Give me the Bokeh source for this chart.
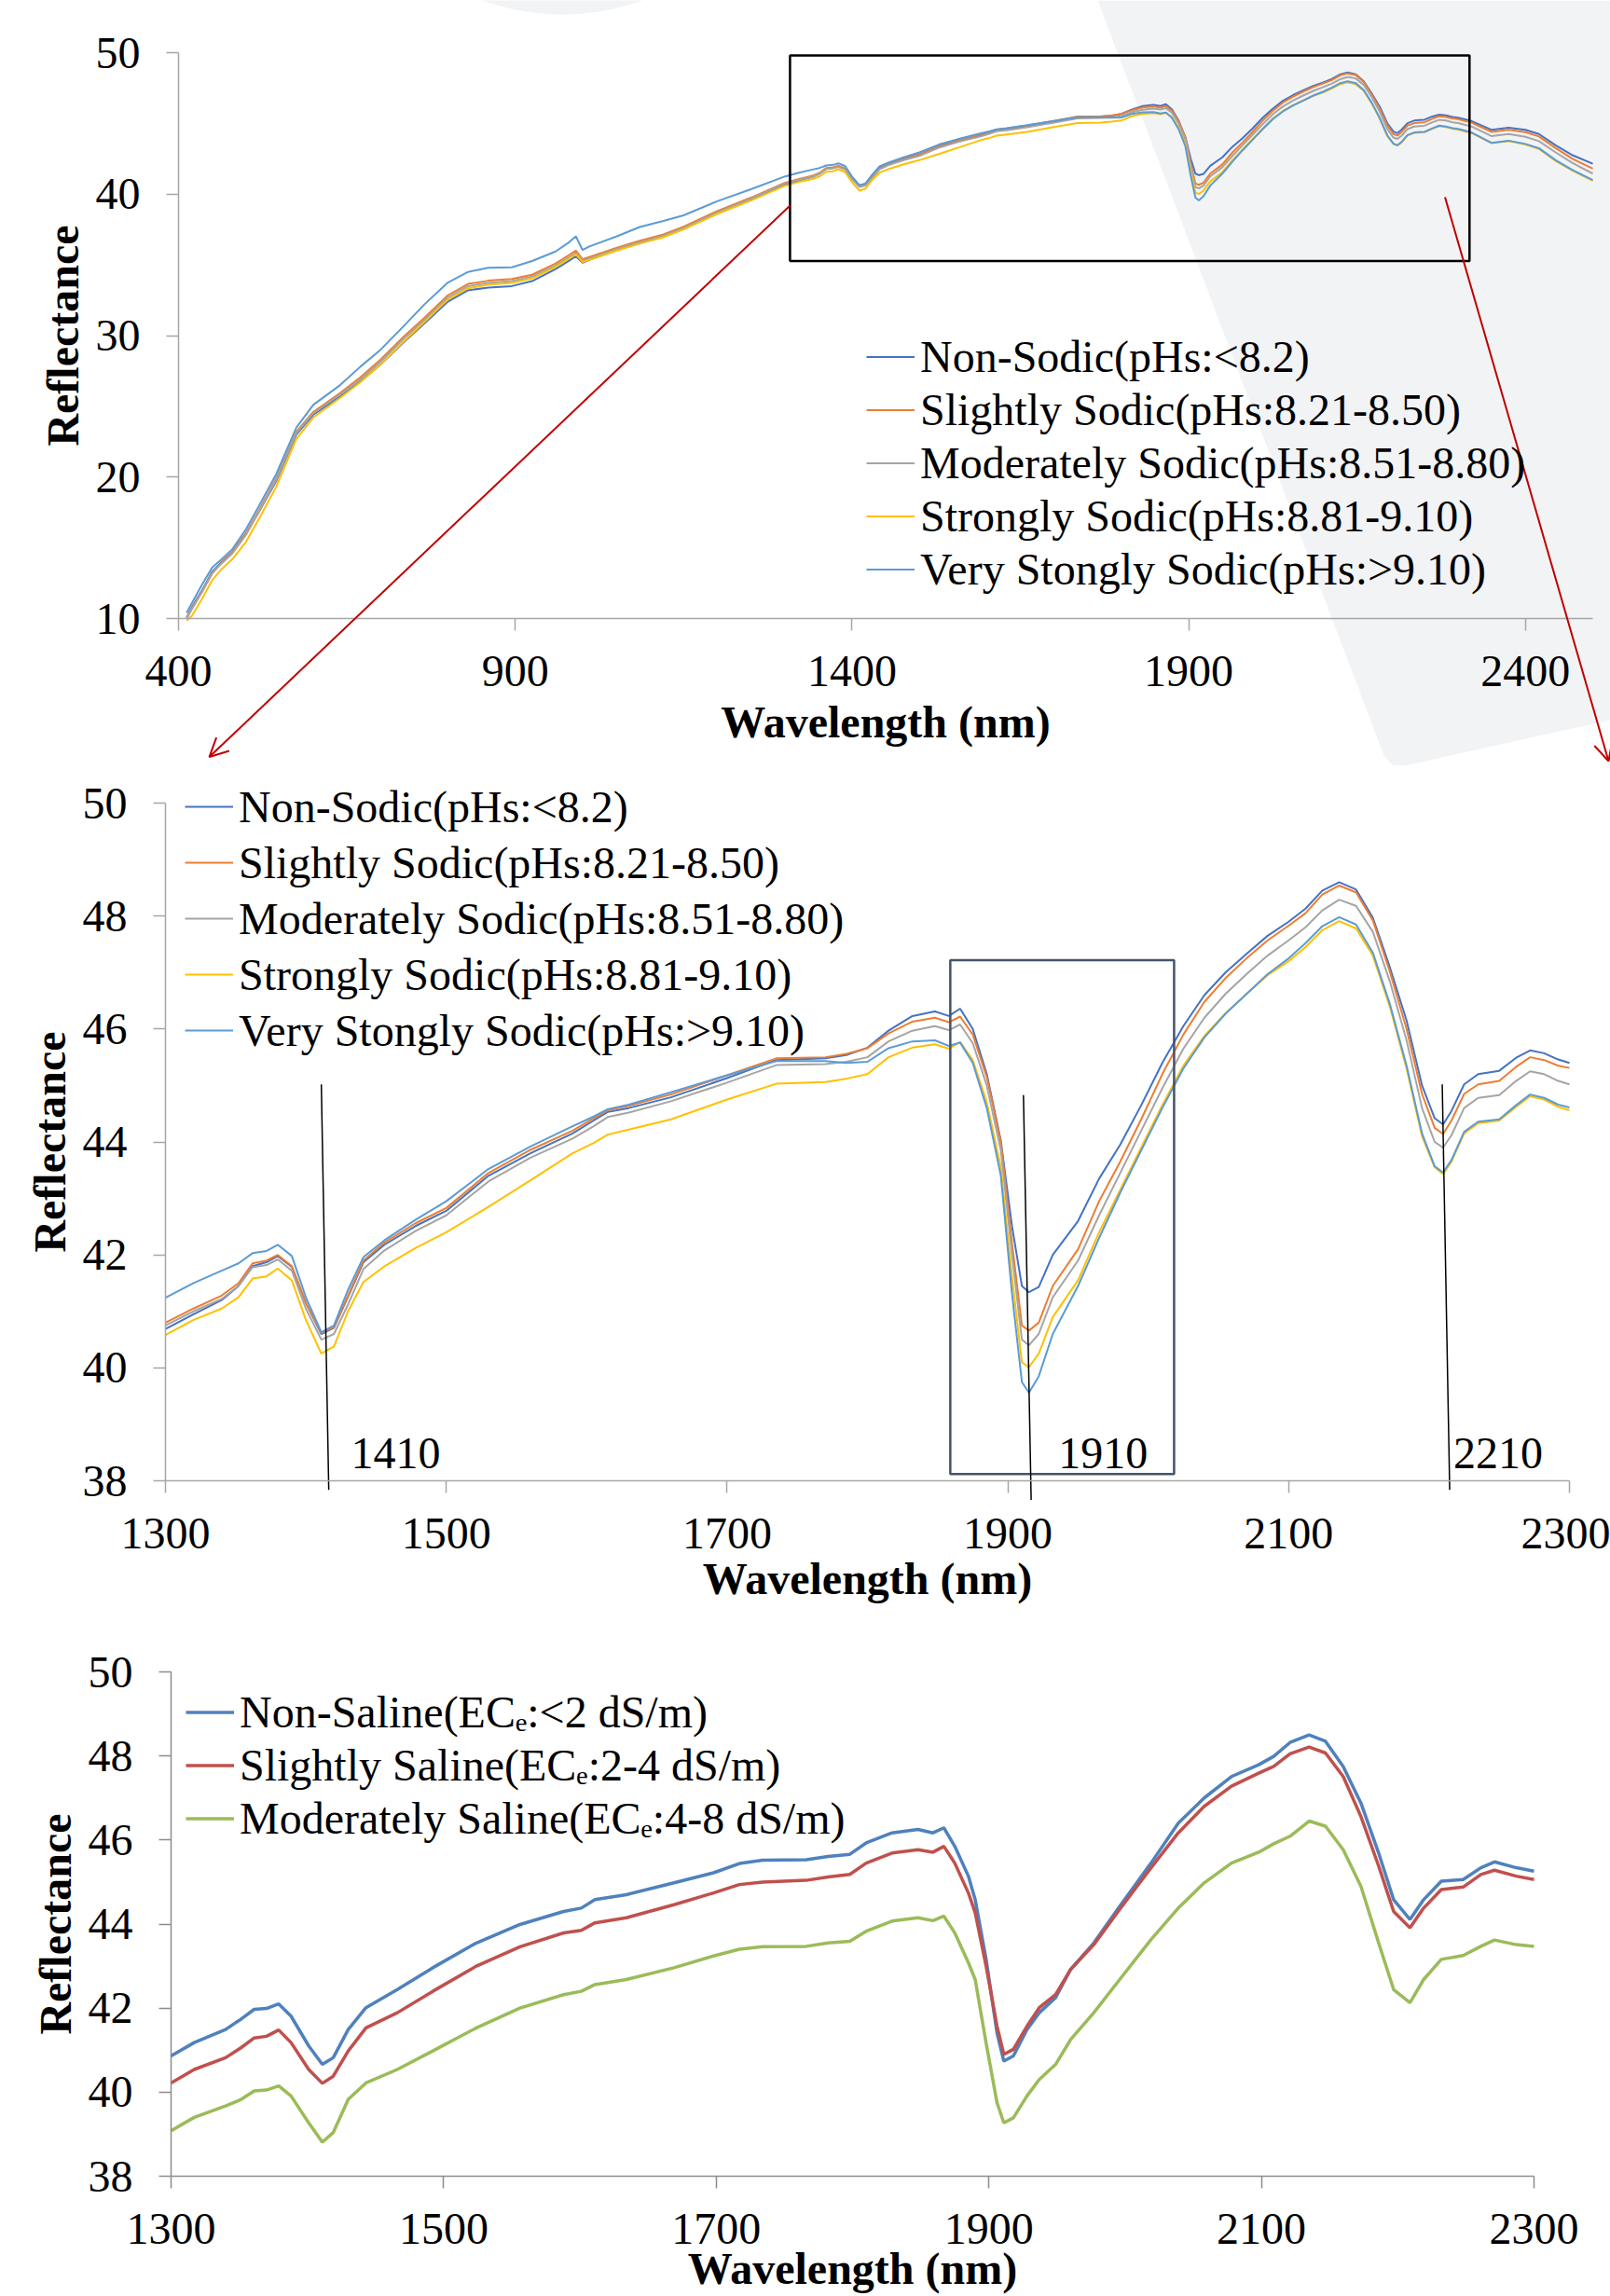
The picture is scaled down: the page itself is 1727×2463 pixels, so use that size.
import math
from bokeh.plotting import figure
from bokeh.models import (Legend, LegendItem, Arrow, OpenHead, Label,
                          FixedTicker, Range1d)
from bokeh.layouts import column
from bokeh.embed import file_html
from bokeh.resources import INLINE

# ---------------------------------------------------------------- data
wavelength = [
    412, 420, 435, 450, 462, 480, 500, 520, 545,
    575, 600, 640, 670, 700, 735, 765, 800, 830, 860,
    895, 925, 960, 980, 990, 1000, 1010, 1050, 1085, 1120,
    1150, 1200, 1250,
    1300, 1320, 1340, 1352, 1362, 1372, 1380, 1390, 1400, 1411,
    1420, 1430, 1441, 1456, 1478, 1500, 1530, 1560, 1590, 1605,
    1615, 1630, 1660, 1700, 1735, 1770, 1785, 1800, 1815, 1832,
    1848, 1858, 1866, 1875, 1885, 1895, 1903, 1910, 1915, 1922,
    1932, 1950, 1965, 1980, 1995, 2010, 2025, 2040, 2055, 2070,
    2085, 2100, 2112, 2124, 2136, 2148, 2160, 2172, 2184, 2195,
    2204, 2210, 2216, 2225, 2235, 2250, 2262, 2272, 2282, 2292,
    2300,
    2320, 2350, 2375, 2400, 2420, 2445, 2470, 2500]

non_sodic = [
    10.05, 10.8, 12.0, 13.3, 13.9, 14.7, 16.0, 17.6, 19.7,
    23.0, 24.4, 25.7, 26.75, 27.95, 29.55, 30.85, 32.4, 33.2, 33.4,
    33.5, 33.85, 34.7, 35.3, 35.6, 35.15, 35.35, 36.05, 36.55, 37.0,
    37.55, 38.65, 39.6,
    40.69, 40.95, 41.2, 41.45, 41.8, 41.87, 41.98, 41.79, 41.15, 40.6,
    40.71, 41.26, 41.87, 42.18, 42.51, 42.78, 43.4, 43.8, 44.15, 44.38,
    44.53, 44.6, 44.79, 45.13, 45.45, 45.48, 45.54, 45.67, 45.97, 46.23,
    46.31, 46.23, 46.36, 46.0, 45.2, 44.02, 42.5, 41.45, 41.34, 41.43,
    42.0, 42.6, 43.35, 43.95, 44.65, 45.4, 46.05, 46.6, 47.0, 47.33,
    47.65, 47.9, 48.13, 48.45, 48.6, 48.47, 47.97, 47.1, 46.15, 45.0,
    44.42, 44.31, 44.55, 45.02, 45.2, 45.26, 45.49, 45.62, 45.57, 45.46,
    45.4,
    45.17, 44.54, 44.69, 44.55, 44.25, 43.45, 42.75, 42.15]

slightly_sodic = [
    10.0, 10.7, 11.9, 13.2, 13.85, 14.7, 16.0, 17.7, 19.9,
    23.2, 24.6, 25.95, 27.05, 28.3, 29.95, 31.25, 32.85, 33.65, 33.88,
    34.0, 34.3, 35.1, 35.7, 36.0, 35.4, 35.55, 36.2, 36.7, 37.15,
    37.7, 38.8, 39.75,
    40.8, 41.05, 41.28, 41.5, 41.85, 41.9, 42.0, 41.8, 41.15, 40.62,
    40.72, 41.28, 41.9, 42.22, 42.56, 42.83, 43.45, 43.86, 44.2, 44.42,
    44.56, 44.64, 44.84, 45.18, 45.48, 45.5, 45.56, 45.66, 45.92, 46.13,
    46.2, 46.12, 46.22, 45.9, 45.15, 44.0, 42.2, 40.75, 40.66, 40.8,
    41.45, 42.1, 42.95, 43.65, 44.4, 45.2, 45.9, 46.48, 46.9, 47.25,
    47.57, 47.83, 48.05, 48.38, 48.54, 48.42, 47.92, 47.02, 46.0, 44.85,
    44.25, 44.14, 44.38, 44.85, 45.02, 45.08, 45.33, 45.5, 45.45, 45.35,
    45.31,
    45.05, 44.4, 44.55, 44.38, 44.08, 43.25, 42.5, 41.8]

moderately_sodic = [
    10.0, 10.7, 11.9, 13.2, 13.8, 14.6, 15.9, 17.6, 19.8,
    23.1, 24.5, 25.85, 26.9, 28.15, 29.8, 31.1, 32.7, 33.5, 33.72,
    33.85, 34.17, 34.95, 35.55, 35.85, 35.3, 35.45, 36.1, 36.6, 37.05,
    37.6, 38.7, 39.68,
    40.75, 41.0, 41.22, 41.45, 41.78, 41.82, 41.92, 41.72, 41.05, 40.5,
    40.6, 41.12, 41.75, 42.08, 42.42, 42.7, 43.3, 43.72, 44.06, 44.28,
    44.44, 44.52, 44.72, 45.05, 45.36, 45.38, 45.42, 45.5, 45.78, 45.97,
    46.05, 45.98, 46.08, 45.75, 45.0, 43.85, 42.0, 40.5, 40.4, 40.6,
    41.25, 41.9, 42.7, 43.45, 44.2, 44.95, 45.65, 46.2, 46.62, 46.97,
    47.3, 47.57, 47.8, 48.1, 48.29, 48.18, 47.72, 46.85, 45.8, 44.6,
    44.0, 43.9, 44.12, 44.6, 44.78, 44.83, 45.08, 45.25, 45.2, 45.08,
    45.02,
    44.78, 44.1, 44.25, 44.05, 43.75, 42.95, 42.2, 41.45]

strongly_sodic = [
    9.85, 10.2, 11.4, 12.7, 13.4, 14.2, 15.4, 17.1, 19.3,
    22.7, 24.2, 25.6, 26.7, 27.95, 29.6, 30.95, 32.55, 33.35, 33.6,
    33.72, 34.05, 34.85, 35.45, 35.75, 35.2, 35.35, 36.0, 36.5, 36.95,
    37.5, 38.6, 39.55,
    40.58, 40.85, 41.05, 41.25, 41.58, 41.62, 41.76, 41.55, 40.85, 40.25,
    40.38, 41.0, 41.52, 41.8, 42.12, 42.4, 42.85, 43.32, 43.8, 43.98,
    44.13, 44.22, 44.4, 44.75, 45.03, 45.06, 45.12, 45.2, 45.5, 45.67,
    45.73, 45.65, 45.77, 45.45, 44.7, 43.55, 41.6, 40.1, 40.01, 40.25,
    40.9, 41.55, 42.4, 43.15, 43.9, 44.65, 45.35, 45.88, 46.28, 46.62,
    46.95, 47.2, 47.45, 47.75, 47.91, 47.78, 47.3, 46.4, 45.3, 44.1,
    43.55, 43.43, 43.65, 44.15, 44.33, 44.38, 44.62, 44.81, 44.75, 44.62,
    44.56,
    44.32, 43.6, 43.75, 43.5, 43.2, 42.35, 41.65, 40.95]

very_strongly_sodic = [
    10.4, 11.1, 12.4, 13.6, 14.1, 14.9, 16.3, 18.0, 20.2,
    23.5, 25.1, 26.5, 27.8, 29.0, 30.7, 32.2, 33.75, 34.5, 34.8,
    34.83, 35.27, 35.95, 36.6, 37.02, 36.05, 36.3, 37.0, 37.68, 38.1,
    38.5, 39.5, 40.35,
    41.24, 41.5, 41.72, 41.85, 42.03, 42.07, 42.18, 41.98, 41.25, 40.63,
    40.75, 41.38, 41.96, 42.26, 42.62, 42.95, 43.52, 43.92, 44.28, 44.45,
    44.58, 44.66, 44.88, 45.18, 45.43, 45.43, 45.4, 45.42, 45.66, 45.78,
    45.8, 45.7, 45.76, 45.4, 44.6, 43.4, 41.3, 39.75, 39.56, 39.85,
    40.6, 41.45, 42.3, 43.1, 43.85, 44.6, 45.3, 45.85, 46.27, 46.62,
    46.97, 47.25, 47.52, 47.82, 47.98, 47.85, 47.35, 46.45, 45.35, 44.15,
    43.57, 43.46, 43.68, 44.18, 44.36, 44.4, 44.65, 44.84, 44.78, 44.66,
    44.61,
    44.36, 43.62, 43.78, 43.55, 43.25, 42.4, 41.7, 41.0]

sodic_labels = ["Non-Sodic(pHs:<8.2)",
                "Slightly Sodic(pHs:8.21-8.50)",
                "Moderately Sodic(pHs:8.51-8.80)",
                "Strongly Sodic(pHs:8.81-9.10)",
                "Very Stongly Sodic(pHs:>9.10)"]

saline_wavelength = [
    1300, 1317, 1340, 1351, 1361, 1370, 1379, 1388, 1401, 1411,
    1419, 1430, 1443, 1466, 1492, 1524, 1556, 1588, 1601, 1611,
    1634, 1669, 1698, 1717, 1734, 1766, 1782, 1798, 1810, 1829,
    1848, 1859, 1867, 1875, 1885, 1890, 1898, 1906, 1911, 1918,
    1928, 1937, 1949, 1960, 1977, 1996, 2019, 2039, 2058, 2078,
    2098, 2109, 2121, 2135, 2147, 2160, 2173, 2186, 2197, 2209,
    2219, 2232, 2248, 2261, 2271, 2287, 2300]

non_saline = [
    40.86, 41.18, 41.49, 41.73, 41.97, 41.99, 42.10, 41.81, 41.10, 40.66,
    40.82, 41.49, 42.01, 42.44, 42.96, 43.55, 43.99, 44.30, 44.38, 44.58,
    44.70, 44.98, 45.22, 45.44, 45.52, 45.53, 45.61, 45.66, 45.93, 46.17,
    46.25, 46.17, 46.29, 45.85, 45.14, 44.58, 43.16, 41.41, 40.74, 40.86,
    41.49, 41.89, 42.25, 42.92, 43.55, 44.42, 45.45, 46.40, 47.00, 47.51,
    47.79, 47.99, 48.32, 48.50, 48.35, 47.75, 46.88, 45.69, 44.58, 44.11,
    44.58, 45.02, 45.06, 45.34, 45.48, 45.34, 45.26]

slightly_saline = [
    40.22, 40.54, 40.82, 41.05, 41.29, 41.33, 41.48, 41.18, 40.54, 40.21,
    40.38, 40.98, 41.53, 41.89, 42.40, 43.00, 43.46, 43.79, 43.85, 44.03,
    44.15, 44.46, 44.74, 44.94, 45.00, 45.04, 45.12, 45.18, 45.45, 45.69,
    45.77, 45.71, 45.85, 45.45, 44.74, 44.27, 43.00, 41.57, 40.90, 41.02,
    41.57, 42.01, 42.32, 42.92, 43.51, 44.35, 45.34, 46.17, 46.80, 47.28,
    47.59, 47.75, 48.05, 48.21, 48.07, 47.51, 46.56, 45.38, 44.30, 43.91,
    44.38, 44.82, 44.88, 45.18, 45.28, 45.14, 45.06]

moderately_saline = [
    39.08, 39.40, 39.67, 39.82, 40.03, 40.05, 40.15, 39.91, 39.27, 38.81,
    39.04, 39.83, 40.22, 40.54, 40.98, 41.53, 42.00, 42.32, 42.40, 42.56,
    42.68, 42.96, 43.24, 43.40, 43.46, 43.47, 43.55, 43.59, 43.83, 44.07,
    44.15, 44.08, 44.19, 43.79, 43.08, 42.68, 41.17, 39.75, 39.27, 39.39,
    39.91, 40.30, 40.66, 41.25, 41.89, 42.68, 43.63, 44.38, 44.98, 45.45,
    45.71, 45.91, 46.09, 46.45, 46.33, 45.77, 44.90, 43.55, 42.44, 42.13,
    42.68, 43.16, 43.25, 43.47, 43.62, 43.51, 43.47]

saline_labels = ["Non-Saline(EC\u2091:<2 dS/m)",
                 "Slightly Saline(EC\u2091:2-4 dS/m)",
                 "Moderately Saline(EC\u2091:4-8 dS/m)"]

full_ticks_x = [400, 900, 1400, 1900, 2400]
full_ticks_y = [10, 20, 30, 40, 50]
zoom_ticks_x = [1300, 1500, 1700, 1900, 2100, 2300]
zoom_ticks_y = [38, 40, 42, 44, 46, 48, 50]
band_labels = ["1410", "1910", "2210"]

# ---------------------------------------------------------------- style / layout
FONT = "Liberation Serif"
SODIC_COLORS = ["#4472C4", "#ED7D31", "#A5A5A5", "#FFC000", "#5B9BD5"]
SALINE_COLORS = ["#4F81BD", "#C0504D", "#9BBB59"]
RED = "#C00000"
PALE = "#F2F3F5"
W = 1727


def make_fig(h, xa, xb, ya, yb):
    """xa/xb: (value, pixel) of the x axis ends; ya/yb: (value, pixel) of the y axis ends."""
    sx = (xb[1] - xa[1]) / (xb[0] - xa[0])
    sy = (ya[1] - yb[1]) / (yb[0] - ya[0])
    xr = Range1d(xa[0] - xa[1] / sx, xa[0] + (W - xa[1]) / sx)
    yr = Range1d(ya[0] - (h - ya[1]) / sy, yb[0] + yb[1] / sy)
    p = figure(width=W, height=h, x_range=xr, y_range=yr,
               output_backend="svg", toolbar_location=None,
               min_border_left=0, min_border_right=0, min_border_top=0, min_border_bottom=0)
    p.title.visible = False
    p.xaxis[0].fixed_location = ya[0]
    p.yaxis[0].fixed_location = xa[0]
    p.xaxis[0].bounds = (xa[0], xb[0])
    p.yaxis[0].bounds = (ya[0], yb[0])
    return p


def style(p, xt, yt, axis_color, xlab_std, ylab_std):
    p.xaxis.ticker = FixedTicker(ticks=xt)
    p.yaxis.ticker = FixedTicker(ticks=yt)
    for ax in (p.xaxis[0], p.yaxis[0]):
        ax.axis_line_color = axis_color
        ax.axis_line_width = 1.5
        ax.major_tick_line_color = axis_color
        ax.major_tick_line_width = 1.5
        ax.major_tick_out = 13
        ax.major_tick_in = 0
        ax.minor_tick_line_color = None
        ax.major_label_text_font = FONT
        ax.major_label_text_font_size = "48px"
        ax.major_label_text_color = "black"
        ax.axis_label_text_font = FONT
        ax.axis_label_text_font_size = "48px"
        ax.axis_label_text_font_style = "bold"
        ax.axis_label_text_color = "black"
    p.xaxis[0].major_label_standoff = 27
    p.yaxis[0].major_label_standoff = 28
    p.xaxis[0].axis_label_standoff = xlab_std
    p.yaxis[0].axis_label_standoff = ylab_std
    p.xaxis[0].axis_label = "Wavelength (nm)"
    p.yaxis[0].axis_label = "Reflectance"
    p.xgrid.visible = False
    p.ygrid.visible = False
    p.outline_line_color = None
    p.background_fill_color = "white"
    p.border_fill_color = "white"


def make_legend(p, renderers, labels, loc, row_h, glyph_w):
    items = [LegendItem(label=l, renderers=[r]) for l, r in zip(labels, renderers)]
    lg = Legend(items=items, location=loc, orientation="vertical",
                label_text_font=FONT, label_text_font_size="48px",
                label_text_color="black",
                glyph_width=glyph_w, glyph_height=row_h, label_height=row_h,
                spacing=0, padding=0, margin=0, label_standoff=6,
                border_line_color=None, background_fill_alpha=0)
    p.add_layout(lg)


sodic_series = [non_sodic, slightly_sodic, moderately_sodic, strongly_sodic, very_strongly_sodic]

# ---------------------------------------------------------------- panel 1
H1 = 835
p1 = make_fig(H1, (400, 191), (2500, 1708), (10, 663), (50, 56))
style(p1, full_ticks_x, full_ticks_y, "#A6A6A6", 9, 6)


def px_to_p1(px, py):
    return 400 + (px - 191) * 2100 / 1517, 50 - (py - 56) * 40 / 607


# pale decorative background shapes (canvas pixel outline -> data)
bg_poly_px = [(1177, 0), (1727, 0), (1727, 772), (1506, 821), (1493, 820), (1484, 810)]
bx, by = zip(*[px_to_p1(a, b) for a, b in bg_poly_px])
p1.patch(list(bx), list(by), fill_color=PALE, line_color=None, level="underlay")
circ = [px_to_p1(603 + 254 * math.cos(t * math.pi / 60), -239 + 254 * math.sin(t * math.pi / 60))
        for t in range(120)]
cx, cy = zip(*circ)
p1.patch(list(cx), list(cy), fill_color=PALE, line_color=None, level="underlay")

r1 = [p1.line(wavelength, s, line_color=c, line_width=2) for s, c in zip(sodic_series, SODIC_COLORS)]

p1.quad(left=[1308], right=[2317], bottom=[35.27], top=[49.8], fill_color=None,
        line_color="black", line_width=2.5)
p1.add_layout(Arrow(end=OpenHead(line_color=RED, line_width=2, size=20),
                    x_start=1308.1, y_start=39.19, x_end=445.7, y_end=0.21,
                    line_color=RED, line_width=2))
p1.add_layout(Arrow(end=OpenHead(line_color=RED, line_width=2, size=20),
                    x_start=2280.6, y_start=39.79, x_end=2523.5, y_end=-0.08,
                    line_color=RED, line_width=2))

make_legend(p1, r1, sodic_labels, (929, 196), 57, 52)

# ---------------------------------------------------------------- panel 2
H2 = 885
p2 = make_fig(H2, (1300, 177), (2300, 1683), (38, 753), (50, 26))
style(p2, zoom_ticks_x, zoom_ticks_y, "#A6A6A6", 3, 6)
zi = [i for i, w in enumerate(wavelength) if 1300 <= w <= 2300]
wl_zoom = [wavelength[i] for i in zi]
r2 = [p2.line(wl_zoom, [s[i] for i in zi], line_color=c, line_width=2)
      for s, c in zip(sodic_series, SODIC_COLORS)]

p2.quad(left=[1859], right=[2018.4], bottom=[38.12], top=[47.22], fill_color=None,
        line_color="#44546A", line_width=2.5)
band_lines = [((1411.0, 45.02), (1416.3, 37.84)),
              ((1911.1, 44.83), (1916.6, 37.66)),
              ((2209.4, 45.02), (2214.7, 37.84))]
p2.segment(x0=[b[0][0] for b in band_lines], y0=[b[0][1] for b in band_lines],
           x1=[b[1][0] for b in band_lines], y1=[b[1][1] for b in band_lines],
           line_color="black", line_width=1.5)
for txt, lx in zip(band_labels, [1432.2, 1935.9, 2217.3]):
    p2.add_layout(Label(x=lx, y=38.48, text=txt, text_font=FONT, text_font_size="48px",
                        text_color="black", text_align="left", text_baseline="alphabetic"))

make_legend(p2, r2, sodic_labels, (198, 585), 60, 52)

# ---------------------------------------------------------------- panel 3
H3 = 743
p3 = make_fig(H3, (1300, 183), (2300, 1645), (38, 614), (50, 73))
style(p3, zoom_ticks_x, zoom_ticks_y, "#8C8C8C", -3, 6)
saline_series = [non_saline, slightly_saline, moderately_saline]
r3 = [p3.line(saline_wavelength, s, line_color=c, line_width=3.5)
      for s, c in zip(saline_series, SALINE_COLORS)]
make_legend(p3, r3, saline_labels, (199, 484), 57, 52)

layout = column(p1, p2, p3, spacing=0)
open("out.html", "w").write(file_html(layout, INLINE))
